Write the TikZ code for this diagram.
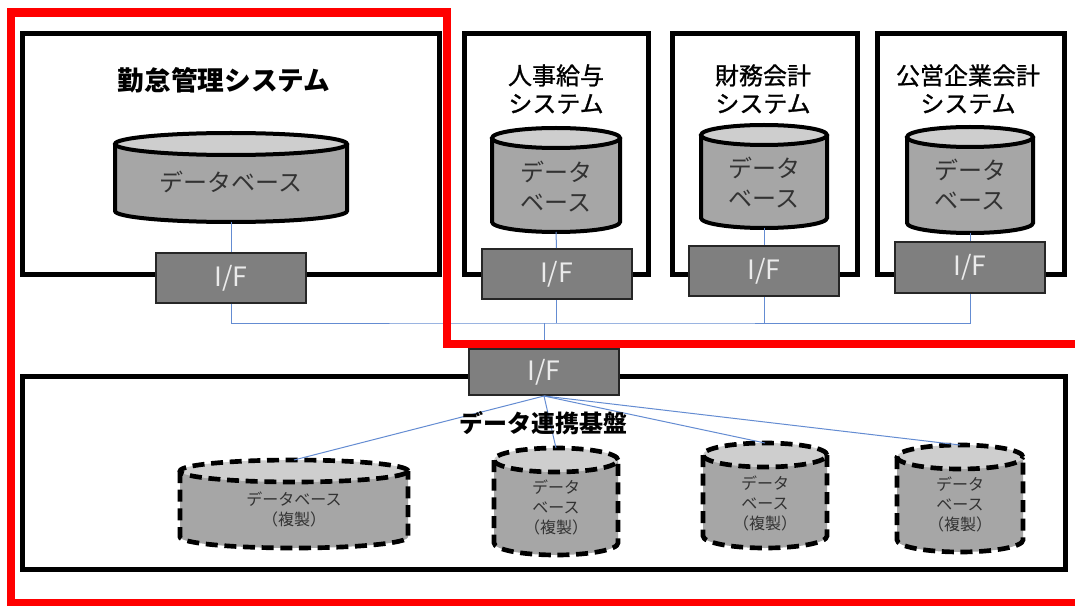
\documentclass[tikz,border=0pt]{standalone}
\usepackage{fontspec}
\setmainfont{Noto Sans CJK JP}
\newfontfamily\jpmed[FakeBold=1]{Noto Sans CJK JP}
\definecolor{redline}{RGB}{255,0,0}
\definecolor{ifgray}{RGB}{127,127,127}
\definecolor{ifedge}{RGB}{38,38,38}
\definecolor{iftext}{RGB}{235,235,235}
\definecolor{dbbody}{RGB}{166,166,166}
\definecolor{dbtop}{RGB}{206,206,206}
\definecolor{dbtextc}{RGB}{50,50,50}
\definecolor{linkblue}{RGB}{100,140,210}

\newcommand\DBcyl[9]{%
  \fill[dbbody] (#2-#5,-#3) -- (#2-#5,-#4) arc[start angle=180,end angle=360,x radius=#5,y radius=#6] -- (#2+#5,-#3) -- cycle;
  \fill[dbtop] (#2,-#3) ellipse[x radius=#5,y radius=#6];
  \draw[#7line] (#2-#5,-#3) -- (#2-#5,-#4) arc[start angle=180,end angle=360,x radius=#5,y radius=#6] -- (#2+#5,-#3);
  \draw[#7line] (#2,-#3) ellipse[x radius=#5,y radius=#6];
  \coordinate (#1-top) at (#2,-#3+#6);
  \coordinate (#1-bot) at (#2,-#4-#6);
  \node[#7text] (#1) at (#2,-#8) {#9};
}

\begin{document}
\begin{tikzpicture}[x=0.75pt,y=0.75pt,
  sysbox/.style={draw=black,line width=3.75pt,fill=white,inner sep=0pt},
  sz/.style 2 args={minimum width=#1*0.75pt,minimum height=#2*0.75pt},
  ifbox/.style={draw=ifedge,line width=1.5pt,fill=ifgray,text=iftext,font=\fontsize{20}{24}\selectfont,inner sep=0pt,minimum width=112.5pt,minimum height=37.5pt},
  link/.style={draw=linkblue,line width=0.75pt},
  dbline/.style={draw=black,line width=3pt},
  cpline/.style={draw=black,line width=3.5pt,dash pattern=on 9pt off 5pt},
  dbtext/.style={text=dbtextc,font=\fontsize{18}{22.5}\selectfont,align=center,inner sep=0pt},
  cptext/.style={text=dbtextc,font=\fontsize{12}{15}\selectfont,align=center,inner sep=0pt},
  title/.style={font=\jpmed\fontsize{18}{21}\selectfont,align=center,inner sep=0pt},
  btitle/.style={font=\bfseries\fontsize{20}{24}\selectfont,inner sep=0pt},
  redframe/.style={draw=redline,line width=6.5pt}
]
\clip (0,0) rectangle (1075,-606);
\fill[white] (0,0) rectangle (1075,-606);

% system boxes
\node[sysbox,sz={417}{240}] (kintai) at (230.5,-154) {};
\node[sysbox,sz={184}{240}] (jinji) at (556,-154) {};
\node[sysbox,sz={185}{240}] (zaimu) at (764.5,-154) {};
\node[sysbox,sz={187}{240}] (koei) at (970.5,-154) {};
\node[sysbox,sz={1043}{193}] (kiban) at (543.5,-472.5) {};

% databases
\DBcyl{db1}{231}{144}{211}{116}{11}{db}{182}{データベース}
\DBcyl{db2}{556}{138}{222}{64}{10}{db}{187}{データ\\ベース}
\DBcyl{db3}{764}{135}{218}{63}{10}{db}{182.5}{データ\\ベース}
\DBcyl{db4}{970}{137}{223}{63}{10}{db}{185}{データ\\ベース}
\DBcyl{cp1}{294}{471}{537}{114}{11}{cp}{509}{データベース\\（複製）}
\DBcyl{cp2}{556}{460}{543}{62}{12}{cp}{507}{データ\\ベース\\（複製）}
\DBcyl{cp3}{765}{455}{536}{62}{12}{cp}{503}{データ\\ベース\\（複製）}
\DBcyl{cp4}{960}{457}{540}{63}{12}{cp}{504}{データ\\ベース\\（複製）}

% interfaces
\node[ifbox] (if1) at (231,-278) {I/F};
\node[ifbox] (if2) at (556.5,-274) {I/F};
\node[ifbox] (if3) at (764,-271) {I/F};
\node[ifbox] (if4) at (970,-267.5) {I/F};
\node[ifbox,minimum height=34.5pt] (ifc) at (544,-372) {I/F};

% connectors
\coordinate (bus) at (544,-323);
\draw[link] (db1-bot) -- (if1.north);
\draw[link] (db2-bot) -- (if2.north);
\draw[link] (db3-bot) -- (if3.north);
\draw[link] (db4-bot) -- (if4.north);
\draw[link] (if1.south) |- (bus) -| (if4.south);
\draw[link] (if2.south) -- (if2.south |- bus);
\draw[link] (if3.south) -- (if3.south |- bus);
\draw[link] (bus) -- (ifc.north);
\draw[link] (ifc.south) -- (cp1-top);
\draw[link] (ifc.south) -- (cp2-top);
\draw[link] (ifc.south) -- (cp3-top);
\draw[link] (ifc.south) -- (cp4-top);

% red frame
\draw[redframe] (11,-12.5) -- (447,-12.5) -- (447,-344) -- (1090,-344) -- (1090,-603.5) -- (11,-603.5) -- cycle;

% titles
\node[btitle] (t1) at (224,-80) {勤怠管理システム};
\node[title] (t2) at (556,-89) {人事給与\\システム};
\node[title] (t3) at (763,-89) {財務会計\\システム};
\node[title] (t4) at (968,-89) {公営企業会計\\システム};
\node[btitle,font=\bfseries\fontsize{18}{22}\selectfont] (t5) at (543,-423) {データ連携基盤};
\end{tikzpicture}
\end{document}
